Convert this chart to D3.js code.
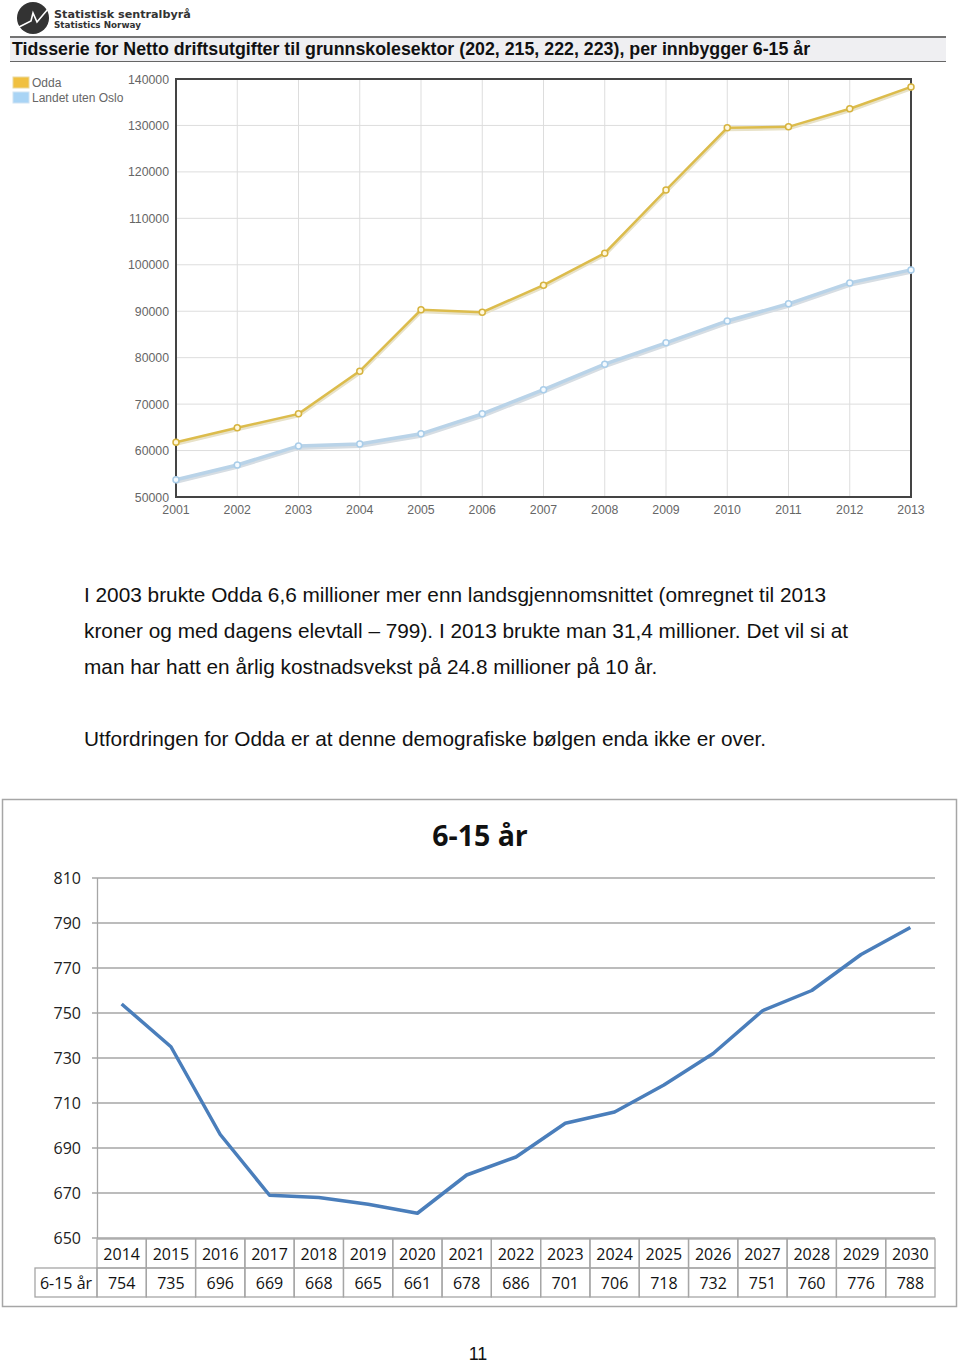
<!DOCTYPE html>
<html><head><meta charset="utf-8">
<script src="https://cdn.jsdelivr.net/npm/d3@7/dist/d3.min.js"></script>
<style>body{margin:0;background:#fff}svg{display:block}</style>
</head><body>
<svg id="page" width="960" height="1365"></svg>
<script>
// ---- Data: top chart ----
const years = [2001,2002,2003,2004,2005,2006,2007,2008,2009,2010,2011,2012,2013];
const oddaValues = [61800,64900,67900,77100,90300,89800,95600,102500,116100,129500,129700,133600,138300];
const landetValues = [53700,56900,61000,61400,63600,67900,73100,78600,83200,87900,91600,96100,98900];
const seriesNames = ["Odda","Landet uten Oslo"];
const topYTicks = [50000,60000,70000,80000,90000,100000,110000,120000,130000,140000];
// ---- Data: bottom chart ----
const projYears = [2014,2015,2016,2017,2018,2019,2020,2021,2022,2023,2024,2025,2026,2027,2028,2029,2030];
const projValues = [754,735,696,669,668,665,661,678,686,701,706,718,732,751,760,776,788];
const projSeriesName = "6-15 år";
const bottomYTicks = [650,670,690,710,730,750,770,790,810];
// ---- Texts ----
const pageTitle = "Tidsserie for Netto driftsutgifter til grunnskolesektor (202, 215, 222, 223), per innbygger 6-15 år";
const paragraphLines = [
  "I 2003 brukte Odda 6,6 millioner mer enn landsgjennomsnittet (omregnet til 2013",
  "kroner og med dagens elevtall \u2013 799). I 2013 brukte man 31,4 millioner. Det vil si at",
  "man har hatt en årlig kostnadsvekst på 24.8 millioner på 10 år."
];
const paragraph2 = "Utfordringen for Odda er at denne demografiske bølgen enda ikke er over.";

const svg = d3.select("#page");

// ---- Logo ----
const logo = svg.append("g");
logo.append("circle").attr("cx",33).attr("cy",18).attr("r",16).attr("fill","#333");
logo.append("path").attr("d","M19,27 L31,21 L33,13 L37,22 L48,9")
  .attr("fill","none").attr("stroke","#fff").attr("stroke-width",1.6);
logo.append("text").attr("x",54).attr("y",18).text("Statistisk sentralbyrå")
  .attr("font-family","DejaVu Sans").attr("font-weight","bold").attr("font-size",11.2).attr("fill","#333");
logo.append("text").attr("x",54).attr("y",28).text("Statistics Norway")
  .attr("font-family","DejaVu Sans").attr("font-weight","bold").attr("font-size",8.8).attr("fill","#333");

// ---- Title bar ----
svg.append("rect").attr("x",10).attr("y",38).attr("width",936).attr("height",23).attr("fill","#efeff2");
svg.append("line").attr("x1",10).attr("x2",946).attr("y1",37).attr("y2",37).attr("stroke","#444").attr("stroke-width",1.5);
svg.append("line").attr("x1",10).attr("x2",946).attr("y1",61.5).attr("y2",61.5).attr("stroke","#666").attr("stroke-width",1.2);
svg.append("text").attr("x",12).attr("y",54.5).text(pageTitle)
  .attr("font-family","Liberation Sans, Arial").attr("font-weight","bold").attr("font-size",17.8).attr("fill","#111");

// ---- Top chart ----
const tx = d3.scaleLinear().domain([2001,2013]).range([176,911]);
const ty = d3.scaleLinear().domain([50000,140000]).range([497,79]);
const topG = svg.append("g");
topG.append("g").selectAll("line").data(topYTicks).join("line")
  .attr("x1",176).attr("x2",911).attr("y1",d=>ty(d)).attr("y2",d=>ty(d)).attr("stroke","#ddd");
topG.append("g").selectAll("line").data(years).join("line")
  .attr("x1",d=>tx(d)).attr("x2",d=>tx(d)).attr("y1",79).attr("y2",497).attr("stroke","#ddd");
topG.append("rect").attr("x",176).attr("y",79).attr("width",735).attr("height",418)
  .attr("fill","none").attr("stroke","#444").attr("stroke-width",2);
topG.append("g").selectAll("text").data(topYTicks).join("text")
  .attr("x",169).attr("y",d=>ty(d)+4.5).attr("text-anchor","end").text(d=>d)
  .attr("font-family","Liberation Sans, Arial").attr("font-size",12.3).attr("fill","#666");
topG.append("g").selectAll("text").data(years).join("text")
  .attr("x",d=>tx(d)).attr("y",513.5).attr("text-anchor","middle").text(d=>d)
  .attr("font-family","Liberation Sans, Arial").attr("font-size",12.3).attr("fill","#666");

const line = d3.line().x((d,i)=>tx(years[i])).y(d=>ty(d));
// Landet (light blue, thicker, soft shadow)
topG.append("path").datum(landetValues).attr("d",line).attr("fill","none")
  .attr("stroke","#d6dde3").attr("stroke-width",5).attr("transform","translate(0,1.5)");
topG.append("path").datum(landetValues).attr("d",line).attr("fill","none")
  .attr("stroke","#b9d3e8").attr("stroke-width",3.5);
topG.append("g").selectAll("circle").data(landetValues).join("circle")
  .attr("cx",(d,i)=>tx(years[i])).attr("cy",d=>ty(d)).attr("r",3)
  .attr("fill","#f4faff").attr("stroke","#a9cde9").attr("stroke-width",1.5);
// Odda (golden)
topG.append("path").datum(oddaValues).attr("d",line).attr("fill","none")
  .attr("stroke","#e8e2c8").attr("stroke-width",4).attr("transform","translate(0,1.5)");
topG.append("path").datum(oddaValues).attr("d",line).attr("fill","none")
  .attr("stroke","#dcbc4c").attr("stroke-width",2.5);
topG.append("g").selectAll("circle").data(oddaValues).join("circle")
  .attr("cx",(d,i)=>tx(years[i])).attr("cy",d=>ty(d)).attr("r",3)
  .attr("fill","#fff8dc").attr("stroke","#d6b33e").attr("stroke-width",1.5);

// Legend
const legColors = ["#f0c040","#a9d4f5"];
const leg = svg.append("g").selectAll("g").data(seriesNames).join("g")
  .attr("transform",(d,i)=>`translate(13,${77+i*15})`);
leg.append("rect").attr("width",16).attr("height",11).attr("fill",(d,i)=>legColors[i])
  .attr("stroke",(d,i)=>i?"#cfe3f3":"#ead9a0");
leg.append("text").attr("x",19).attr("y",10).text(d=>d)
  .attr("font-family","Liberation Sans, Arial").attr("font-size",12).attr("fill","#666");

// ---- Paragraphs ----
const pf = "Liberation Sans, Arial";
svg.append("g").selectAll("text").data(paragraphLines).join("text")
  .attr("x",84).attr("y",(d,i)=>602+i*36).text(d=>d)
  .attr("font-family",pf).attr("font-size",20.8).attr("fill","#111");
svg.append("text").attr("x",84).attr("y",746).text(paragraph2)
  .attr("font-family",pf).attr("font-size",20.8).attr("fill","#111");

// ---- Bottom chart ----
const bf = "Open Sans, Lato, sans-serif";
svg.append("rect").attr("x",2.5).attr("y",799.5).attr("width",954).attr("height",507)
  .attr("fill","#fff").attr("stroke","#a6a6a6").attr("stroke-width",1.5);
svg.append("text").attr("x",480).attr("y",846).attr("text-anchor","middle").text(projSeriesName)
  .attr("font-family",bf).attr("font-weight","bold").attr("font-size",28.5).attr("fill","#111");

const bx = d3.scaleBand().domain(projYears).range([97,935]);
const by = d3.scaleLinear().domain([650,810]).range([1238,878]);
const bot = svg.append("g");
bot.append("g").selectAll("line").data(bottomYTicks).join("line")
  .attr("x1",92).attr("x2",935).attr("y1",d=>by(d)).attr("y2",d=>by(d)).attr("stroke","#a6a6a6").attr("stroke-width",1.3);
bot.append("line").attr("x1",97.5).attr("x2",97.5).attr("y1",878).attr("y2",1238).attr("stroke","#a6a6a6").attr("stroke-width",1.3);
bot.append("g").selectAll("text").data(bottomYTicks).join("text")
  .attr("x",81).attr("y",d=>by(d)+6).attr("text-anchor","end").text(d=>d)
  .attr("font-family",bf).attr("font-size",16).attr("fill","#222");

// Table
const rowTop = 1239, rowH = 29;
const tbl = bot.append("g").attr("fill","none").attr("stroke","#a6a6a6").attr("stroke-width",1.3);
tbl.append("g").selectAll("rect").data(projYears).join("rect")
  .attr("x",d=>bx(d)).attr("y",rowTop).attr("width",bx.bandwidth()).attr("height",rowH);
tbl.append("g").selectAll("rect").data(projYears).join("rect")
  .attr("x",d=>bx(d)).attr("y",rowTop+rowH).attr("width",bx.bandwidth()).attr("height",rowH);
tbl.append("rect").attr("x",35).attr("y",rowTop+rowH).attr("width",62).attr("height",rowH);
bot.append("g").selectAll("text").data(projYears).join("text")
  .attr("x",d=>bx(d)+bx.bandwidth()/2).attr("y",rowTop+21).attr("text-anchor","middle").text(d=>d)
  .attr("font-family",bf).attr("font-size",16).attr("fill","#111");
bot.append("g").selectAll("text").data(projValues).join("text")
  .attr("x",(d,i)=>bx(projYears[i])+bx.bandwidth()/2).attr("y",rowTop+rowH+21).attr("text-anchor","middle").text(d=>d)
  .attr("font-family",bf).attr("font-size",16).attr("fill","#111");
bot.append("text").attr("x",66).attr("y",rowTop+rowH+21).attr("text-anchor","middle").text(projSeriesName)
  .attr("font-family",bf).attr("font-size",16).attr("fill","#111");

const bline = d3.line().x((d,i)=>bx(projYears[i])+bx.bandwidth()/2).y(d=>by(d));
bot.append("path").datum(projValues).attr("d",bline).attr("fill","none")
  .attr("stroke","#4a7ebb").attr("stroke-width",3.5).attr("stroke-linejoin","round");

// Page number
svg.append("text").attr("x",478).attr("y",1360).attr("text-anchor","middle").text("11")
  .attr("font-family",pf).attr("font-size",18).attr("fill","#111");
</script>
</body></html>
